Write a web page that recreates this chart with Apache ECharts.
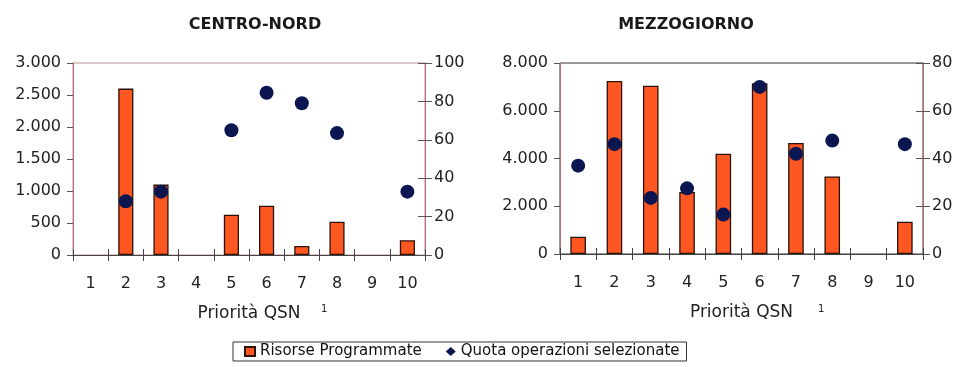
<!DOCTYPE html>
<html><head><meta charset="utf-8">
<script src="https://cdn.jsdelivr.net/npm/echarts@6/dist/echarts.min.js"></script>
<style>html,body{margin:0;padding:0;background:#fff}#c{width:958px;height:367px}</style>
</head><body><div id="c"></div>
<script>
const categories = ['1','2','3','4','5','6','7','8','9','10'];
const titles = ['CENTRO-NORD', 'MEZZOGIORNO'];
const seriesNames = ['Risorse Programmate', 'Quota operazioni selezionate'];
const axisName = 'Priorità QSN';
// Centro-Nord
const cnRisorse = [null, 2600, 1100, null, 630, 770, 140, 520, null, 230];
const cnQuota   = [null, 28, 33, null, 65, 84.5, 79, 63.5, null, 33];
// Mezzogiorno
const mzRisorse = [720, 7250, 7050, 2600, 4200, 7150, 4650, 3250, null, 1350];
const mzQuota   = [37, 46, 23.5, 27.5, 16.5, 70, 42, 47.5, null, 46];
// axis ranges [min, max, interval]
const cnLeftAxis = [0, 3000, 500];
const cnRightAxis = [0, 100, 20];
const mzLeftAxis = [0, 8000, 2000];
const mzRightAxis = [0, 80, 20];

const FONT = 'DejaVu Sans';
const fmt = v => String(v).replace(/\B(?=(\d{3})+(?!\d))/g, '.');
const dash = a => a.map(v => v == null ? '-' : v);
const vLine = '#b87070';

const grids = [
  {left: 73, top: 63, width: 352, height: 192},
  {left: 560, top: 63, width: 363, height: 191}
];

function xAxes(gi) {
  return [
    {type: 'category', gridIndex: gi, data: categories,
     axisLine: {lineStyle: {color: '#444', width: 1}},
     axisTick: {show: true, length: 6, lineStyle: {color: '#444'}},
     axisLabel: {margin: 21, color: '#222', fontFamily: FONT, fontSize: 16},
     name: axisName, nameLocation: 'middle', nameGap: 50,
     nameTextStyle: {color: '#222', fontFamily: FONT, fontSize: 17}},
    {type: 'category', gridIndex: gi, data: categories, position: 'bottom',
     axisLine: {show: false}, axisLabel: {show: false},
     axisTick: {show: true, inside: true, length: 6, lineStyle: {color: '#444'}}}
  ];
}
function yAxes(gi, L, R) {
  return [
    {type: 'value', gridIndex: gi, position: 'left', min: L[0], max: L[1], interval: L[2],
     splitLine: {show: false},
     axisLine: {show: true, lineStyle: {color: vLine}},
     axisTick: {show: true, length: 6, lineStyle: {color: '#555'}},
     axisLabel: {margin: 12, color: '#222', fontFamily: FONT, fontSize: 16, formatter: fmt}},
    {type: 'value', gridIndex: gi, position: 'right', min: R[0], max: R[1], interval: R[2],
     splitLine: {show: false},
     axisLine: {show: true, lineStyle: {color: vLine}},
     axisTick: {show: true, length: 7, lineStyle: {color: '#555'}},
     axisLabel: {margin: 9, color: '#222', fontFamily: FONT, fontSize: 16}},
    {type: 'value', gridIndex: gi, position: 'right', min: R[0], max: R[1], interval: R[2],
     splitLine: {show: false}, axisLine: {show: false}, axisLabel: {show: false},
     axisTick: {show: true, inside: true, length: 7, lineStyle: {color: '#555'}}}
  ];
}

const barStyle = {color: '#ff5722', borderColor: '#2a1208', borderWidth: 1.3};
const dotStyle = {color: '#0b1550', opacity: 1};

function series(gi, bars, dots) {
  return [
    {type: 'bar', name: seriesNames[0], xAxisIndex: gi * 2, yAxisIndex: gi * 3,
     data: dash(bars), barWidth: '43%', itemStyle: barStyle},
    {type: 'scatter', name: seriesNames[1], xAxisIndex: gi * 2, yAxisIndex: gi * 3 + 1,
     data: dash(dots), symbolSize: 14, itemStyle: dotStyle, z: 4}
  ];
}

const chart = echarts.init(document.getElementById('c'), null, {renderer: 'canvas'});
chart.setOption({
  animation: false,
  backgroundColor: '#fff',
  title: [
    {text: titles[0], left: 250, top: 12, textAlign: 'center',
     textStyle: {fontFamily: FONT, fontWeight: 'bold', fontSize: 16, color: '#1a1a1a'}},
    {text: titles[1], left: 681, top: 12, textAlign: 'center',
     textStyle: {fontFamily: FONT, fontWeight: 'bold', fontSize: 16, color: '#1a1a1a'}}
  ],
  grid: grids.map((g, i) => Object.assign({show: true, borderColor: i === 0 ? '#c09090' : '#333', borderWidth: 1}, g)),
  xAxis: [...xAxes(0), ...xAxes(1)],
  yAxis: [...yAxes(0, cnLeftAxis, cnRightAxis), ...yAxes(1, mzLeftAxis, mzRightAxis)],
  series: [...series(0, cnRisorse, cnQuota), ...series(1, mzRisorse, mzQuota)],
  legend: {
    left: 233, top: 342,
    data: [{name: seriesNames[0], icon: 'rect'}, {name: seriesNames[1], icon: 'diamond'}],
    itemWidth: 10, itemHeight: 9, itemGap: 24,
    padding: [2, 7, 2, 11],
    borderColor: '#333', borderWidth: 1,
    textStyle: {fontFamily: FONT, fontSize: 15, color: '#111'}
  },
  graphic: [
    {type: 'text', left: 321, top: 304, style: {text: '1', fontFamily: FONT, fontSize: 10, fill: '#222'}},
    {type: 'text', left: 818, top: 304, style: {text: '1', fontFamily: FONT, fontSize: 10, fill: '#222'}}
  ]
});
</script></body></html>
